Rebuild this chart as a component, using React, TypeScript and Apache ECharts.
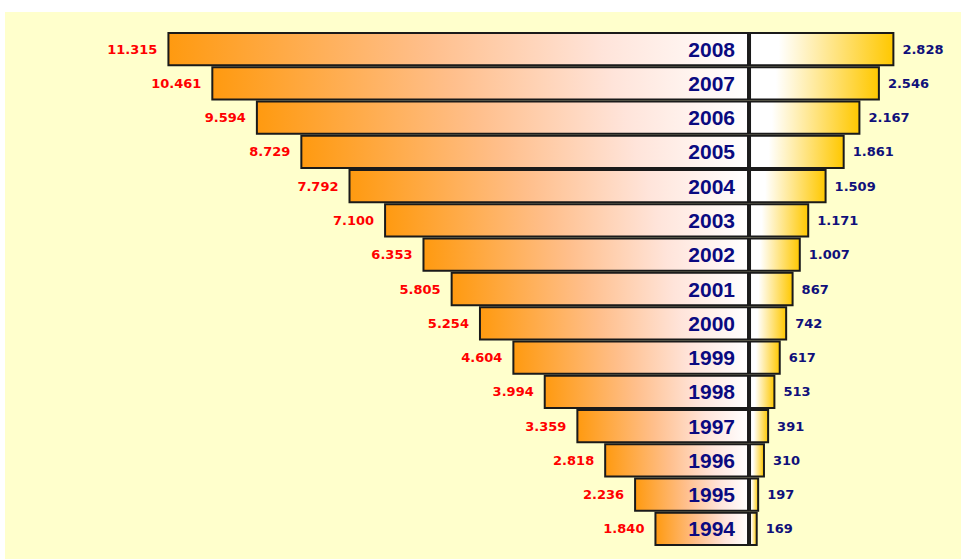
import React, { useEffect, useRef } from "react";
import * as echarts from "echarts";

const years = ["1994", "1995", "1996", "1997", "1998", "1999", "2000", "2001", "2002", "2003", "2004", "2005", "2006", "2007", "2008"];
const leftValues = [1840, 2236, 2818, 3359, 3994, 4604, 5254, 5805, 6353, 7100, 7792, 8729, 9594, 10461, 11315];
const rightValues = [169, 197, 310, 391, 513, 617, 742, 867, 1007, 1171, 1509, 1861, 2167, 2546, 2828];

const fmt = (v: number) => String(Math.abs(v)).replace(/\B(?=(\d{3})+(?!\d))/g, ".");

export default function App() {
  const ref = useRef<HTMLDivElement>(null);
  useEffect(() => {
    document.body.style.margin = "0";
    const chart = echarts.init(ref.current!, null, { renderer: "svg" });
    const leftGrad = new echarts.graphic.LinearGradient(0, 0, 1, 0, [
      { offset: 0, color: "#FF9A10" },
      { offset: 0.45, color: "#FFBF8C" },
      { offset: 0.75, color: "#FFE4DA" },
      { offset: 1, color: "#FFFFFF" },
    ]);
    const rightGrad = new echarts.graphic.LinearGradient(0, 0, 1, 0, [
      { offset: 0, color: "#FFFFFF" },
      { offset: 0.2, color: "#FFFFFF" },
      { offset: 1, color: "#FFC800" },
    ]);
    chart.setOption({
      animation: false,
      backgroundColor: "#FFFFFF",
      graphic: [
        {
          type: "rect",
          z: -10,
          shape: { x: 5, y: 12, width: 956, height: 547 },
          style: { fill: "#FFFFCC" },
          silent: true,
        },
      ],
      grid: { left: 5, right: 0, top: 32, bottom: 13, containLabel: false },
      xAxis: { type: "value", min: -14475, max: 4124, show: false },
      yAxis: { type: "category", data: years, show: false },
      series: [
        {
          type: "bar",
          stack: "t",
          barCategoryGap: "0%",
          data: leftValues.map((v) => -v),
          itemStyle: { color: leftGrad, borderColor: "#1a1a1a", borderWidth: 2 },
          label: {
            show: true,
            position: "left",
            distance: 10,
            formatter: (p: any) => fmt(p.value),
            color: "#FF0000",
            fontFamily: "DejaVu Sans",
            fontWeight: "bold",
            fontSize: 13,
          },
        },
        {
          type: "bar",
          stack: "t",
          barCategoryGap: "0%",
          data: rightValues,
          itemStyle: { color: rightGrad, borderColor: "#1a1a1a", borderWidth: 2 },
          label: {
            show: true,
            position: "right",
            distance: 8,
            formatter: (p: any) => fmt(p.value),
            color: "#10107A",
            fontFamily: "DejaVu Sans",
            fontWeight: "bold",
            fontSize: 13,
          },
        },
        {
          type: "scatter",
          symbolSize: 0,
          z: 10,
          itemStyle: { opacity: 1 },
          data: years.map((y) => [0, y]),
          label: {
            show: true,
            position: "left",
            distance: 14,
            formatter: (p: any) => p.value[1],
            color: "#0A0A80",
            fontFamily: "Liberation Sans",
            fontWeight: "bold",
            fontSize: 21,
          },
        },
      ],
    });
    return () => chart.dispose();
  }, []);
  return <div ref={ref} style={{ width: 961, height: 559 }} />;
}
